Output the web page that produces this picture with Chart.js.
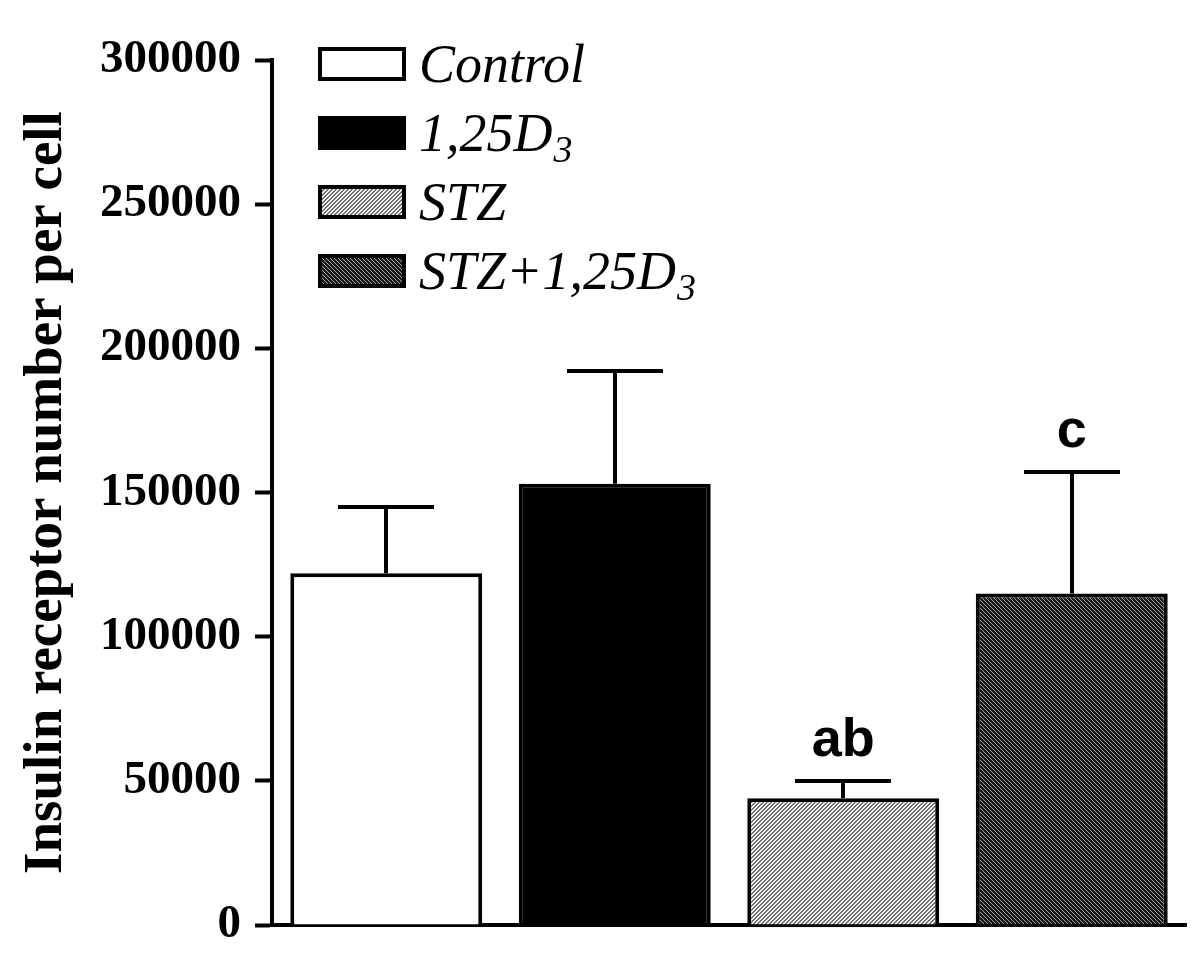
<!DOCTYPE html>
<html>
<head>
<meta charset="utf-8">
<script src="https://cdn.jsdelivr.net/npm/chart.js@4.4.1/dist/chart.umd.min.js"></script>
<style>
  html, body { margin: 0; padding: 0; background: #ffffff; }
  #wrap { width: 1200px; height: 960px; }
</style>
</head>
<body>
<div id="wrap"><canvas id="c" width="1200" height="960"></canvas></div>
<script>
// ---- data ----
const categories = ['Control', '1,25D3', 'STZ', 'STZ+1,25D3'];
const legendMain = ['Control', '1,25D', 'STZ', 'STZ+1,25D'];
const legendSub = ['', '3', '', '3'];
const means = [122000, 153000, 44000, 115000];
const upperErr = [145000, 192000, 50000, 157000];
const sigLetters = ['', '', 'ab', 'c'];
const yTickValues = [0, 50000, 100000, 150000, 200000, 250000, 300000];
const yTitle = 'Insulin receptor number per cell';

// ---- fills ----
function makePattern(bg, fg, dir, n) {
  const t = document.createElement('canvas');
  t.width = 4; t.height = 4;
  const g = t.getContext('2d');
  g.fillStyle = bg; g.fillRect(0, 0, 4, 4);
  g.fillStyle = fg;
  for (let x = 0; x < 4; x++) {
    for (let y = 0; y < 4; y++) {
      const k = dir === '/' ? (x + y) % 4 : ((x - y) % 4 + 4) % 4;
      if (k < n) g.fillRect(x, y, 1, 1);
    }
  }
  const ctx = document.getElementById('c').getContext('2d');
  return ctx.createPattern(t, 'repeat');
}
const fills = [
  '#ffffff',
  '#000000',
  makePattern('#f4f4f4', '#707070', '/', 2),
  makePattern('#1a1a1a', '#a0a0a0', '\\', 1)
];

// ---- plugins ----
const errorBars = {
  id: 'errorBars',
  afterDatasetsDraw(chart) {
    const ctx = chart.ctx;
    const meta = chart.getDatasetMeta(0);
    const ys = chart.scales.y;
    ctx.save();
    ctx.strokeStyle = '#000';
    ctx.lineWidth = 4;
    meta.data.forEach((el, i) => {
      const x = Math.round(el.x);
      const yTop = Math.round(ys.getPixelForValue(upperErr[i]));
      const yBar = el.y;
      const cw = el.width * 0.5;
      ctx.beginPath();
      ctx.moveTo(x, yBar);
      ctx.lineTo(x, yTop);
      ctx.moveTo(x - cw / 2, yTop);
      ctx.lineTo(x + cw / 2, yTop);
      ctx.stroke();
      if (sigLetters[i]) {
        ctx.fillStyle = '#000';
        ctx.font = 'bold 54px "Liberation Sans", Arial, sans-serif';
        ctx.textAlign = 'center';
        ctx.textBaseline = 'alphabetic';
        ctx.fillText(sigLetters[i], el.x, yTop - 25);
      }
    });
    ctx.restore();
  }
};

const customLegend = {
  id: 'customLegend',
  afterDraw(chart) {
    const ctx = chart.ctx;
    const boxX = 318, boxW = 88, boxH = 34, textX = 419;
    const base0 = 82, step = 69;
    ctx.save();
    legendMain.forEach((lab, i) => {
      const baseline = base0 + i * step;
      const cy = baseline - 18;
      ctx.fillStyle = fills[i];
      ctx.fillRect(boxX, cy - boxH / 2, boxW, boxH);
      ctx.strokeStyle = '#000';
      ctx.lineWidth = 4;
      ctx.strokeRect(boxX + 2, cy - boxH / 2 + 2, boxW - 4, boxH - 4);
      ctx.fillStyle = '#000';
      ctx.textAlign = 'left';
      ctx.textBaseline = 'alphabetic';
      ctx.font = 'italic 54px "Liberation Serif", "Times New Roman", serif';
      ctx.fillText(lab, textX, baseline);
      if (legendSub[i]) {
        const w = ctx.measureText(lab).width;
        ctx.font = 'italic 38px "Liberation Serif", "Times New Roman", serif';
        ctx.fillText(legendSub[i], textX + w + 1, baseline + 11);
      }
    });
    ctx.restore();
  }
};

new Chart(document.getElementById('c'), {
  type: 'bar',
  data: {
    labels: categories,
    datasets: [{
      data: means,
      backgroundColor: fills,
      borderColor: '#000',
      borderWidth: 4,
      borderSkipped: 'bottom',
      categoryPercentage: 1.0,
      barPercentage: 0.84
    }]
  },
  options: {
    responsive: false,
    devicePixelRatio: 1,
    animation: false,
    layout: { padding: { top: 60, right: 14, bottom: 27, left: 0 } },
    plugins: { legend: { display: false }, tooltip: { enabled: false } },
    scales: {
      x: {
        grid: { display: false },
        ticks: { display: false },
        border: { display: true, color: '#000', width: 4 }
      },
      y: {
        min: 0,
        max: 300000,
        afterBuildTicks: s => { s.ticks = yTickValues.map(v => ({ value: v })); },
        afterFit: s => { s.width = 272; s.paddingTop = 0; s.paddingBottom = 0; },
        ticks: {
          color: '#000',
          padding: 14,
          font: { family: '"Liberation Serif", "Times New Roman", serif', size: 47, weight: 'bold' },
          callback: v => String(v)
        },
        grid: { drawOnChartArea: false, drawTicks: true, tickLength: 17, tickWidth: 4, tickColor: '#000' },
        border: { display: true, color: '#000', width: 4 },
        title: {
          display: true,
          text: yTitle,
          color: '#000',
          padding: { top: 14, bottom: 0 },
          font: { family: '"Liberation Serif", "Times New Roman", serif', size: 55, weight: 'bold' }
        }
      }
    }
  },
  plugins: [errorBars, customLegend]
});
</script>
</body>
</html>
